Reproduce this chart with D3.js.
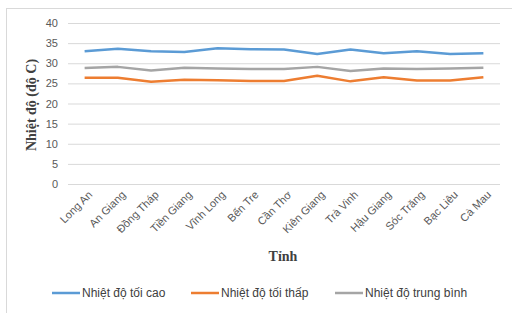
<!DOCTYPE html>
<html><head><meta charset="utf-8">
<script src="https://cdn.jsdelivr.net/npm/d3@7"></script>
<style>body{margin:0;background:#fff}svg{display:block}</style>
</head><body>
<svg id="c" width="512" height="313"></svg>
<script>
const categories = ["Long An","An Giang","Đồng Tháp","Tiền Giang","Vĩnh Long","Bến Tre","Cần Thơ","Kiên Giang","Trà Vinh","Hậu Giang","Sóc Trăng","Bạc Liêu","Cà Mau"];
const maxTemp = [33.0,33.6,33.0,32.8,33.7,33.5,33.4,32.3,33.4,32.5,33.0,32.3,32.5];
const minTemp = [26.4,26.4,25.4,25.9,25.8,25.6,25.6,26.9,25.5,26.5,25.7,25.7,26.5];
const avgTemp = [28.8,29.1,28.2,28.9,28.7,28.6,28.6,29.1,28.1,28.7,28.6,28.7,28.9];
const yTicks = [0,5,10,15,20,25,30,35,40];
const seriesNames = ["Nhiệt độ tối cao","Nhiệt độ tối thấp","Nhiệt độ trung bình"];
const colors = ["#5b9bd5","#ed7d31","#a5a5a5"];

const svg = d3.select("#c");
svg.append("rect").attr("x",6.5).attr("y",8.5).attr("width",520).attr("height",320)
  .attr("fill","none").attr("stroke","#d9d9d9");

const x = d3.scaleBand().domain(categories).range([68,500]);
const y = d3.scaleLinear().domain([0,40]).range([184,23]);

const gy = svg.append("g").attr("transform","translate(68,0)")
  .call(d3.axisLeft(y).tickValues(yTicks).tickSize(-432).tickPadding(10));
gy.select(".domain").remove();
gy.selectAll(".tick line").attr("stroke","#d9d9d9");
gy.selectAll(".tick text").attr("fill","#595959").style("font-family","Liberation Sans, Arial").style("font-size","11px");

const gx = svg.append("g");
categories.forEach(c=>{
  const cx = x(c)+x.bandwidth()/2;
  gx.append("text").attr("transform",`translate(${cx+3},${190}) rotate(-45)`)
    .attr("text-anchor","end").attr("dy","0.7em")
    .attr("fill","#595959").style("font-family","Liberation Sans, Arial").style("font-size","11px")
    .text(c);
});

const data = [maxTemp,minTemp,avgTemp];
const line = d3.line().x((d,i)=>x(categories[i])+x.bandwidth()/2).y(d=>y(d));
data.forEach((s,k)=>{
  svg.append("path").datum(s).attr("d",line).attr("fill","none")
    .attr("stroke",colors[k]).attr("stroke-width",2.5).attr("stroke-linejoin","round");
});

svg.append("text").attr("transform","translate(36,105) rotate(-90)").attr("text-anchor","middle")
  .style("font-family","Liberation Serif, Times New Roman").style("font-weight","bold").style("font-size","14px")
  .attr("fill","#404040").text("Nhiệt độ (độ C)");
svg.append("text").attr("x",283).attr("y",261).attr("text-anchor","middle")
  .style("font-family","Liberation Serif, Times New Roman").style("font-weight","bold").style("font-size","14px")
  .attr("fill","#404040").text("Tỉnh");

const legX = [52,191,335];
seriesNames.forEach((n,k)=>{
  svg.append("line").attr("x1",legX[k]).attr("x2",legX[k]+28).attr("y1",293).attr("y2",293)
    .attr("stroke",colors[k]).attr("stroke-width",2.5);
  svg.append("text").attr("x",legX[k]+30).attr("y",297)
    .style("font-family","Liberation Sans, Arial").style("font-size","12px").attr("fill","#404040").text(n);
});
</script>
</body></html>
